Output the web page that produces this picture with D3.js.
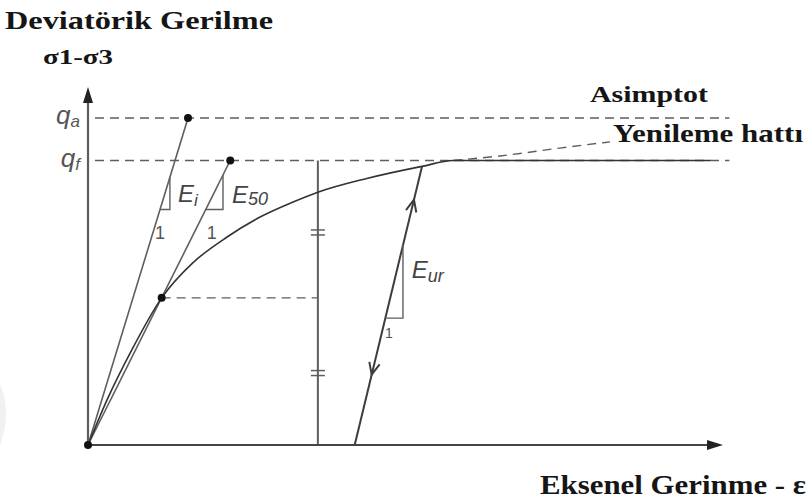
<!DOCTYPE html>
<html>
<head>
<meta charset="utf-8">
<script src="https://cdn.jsdelivr.net/npm/d3@7"></script>
<style>
  body { margin: 0; background: #fff; }
  svg { display: block; }
</style>
</head>
<body>
<svg id="chart" width="809" height="504"></svg>
<script>
// Hyperbolic stress–strain relation: deviator stress against axial strain
const axisStrainMax = 10;        // end of the strain axis
const axisStressMax = 109.5;     // end of the stress axis
const qa = 100;                  // asymptotic deviator stress
const qf = 87;                   // failure deviator stress
const q50 = 45;                  // stress level used for E50
const guideStart = 0.11;         // strain where horizontal guides begin
const guideEnd = 10.1;           // strain where horizontal guides end

// primary loading curve (strain, stress)
const primaryStrain = [0, 0.30, 0.69, 1.16, 1.65, 2.19, 2.71, 3.23, 3.62, 4.39, 5.26, 5.75, 9.8];
const primaryStress = [0, 13.8, 29.1, 45, 55.7, 63.6, 69.7, 74.3, 77.3, 81.5, 85.2, 87, 87];

// hyperbola continued towards the asymptote
const branchStrain = [5.75, 6.49, 7.43, 8.22];
const branchStress = [87, 88.4, 90.8, 92.7];

// stiffness lines: [start strain, start stress, end strain, end stress]
const eiLine  = [0, 0, 1.575, qa];
const e50Line = [0, 0, 2.24, qf];
const eurLine = [4.2, 0, 5.26, 85.2];

const referenceStrain = 3.62;    // vertical reference line
const halfMarks = [65, 22];      // equal-segment ticks on it
const eurArrowStress = [75, 21.5];
const eurArrowDir = [1, -1];     // loading / unloading direction

// slope triangle corners (strain, stress)
const triCornerStrain = [1.29, 2.126, 4.96];
const triCornerStress = [72, 72, 38.8];

const svg = d3.select("#chart");
const x = d3.scaleLinear().domain([0, axisStrainMax]).range([88, 723]);
const y = d3.scaleLinear().domain([0, 100]).range([445, 118]);

const grey = "#5e5e5e";
const dark = "#333";

// faint mark at the left edge
svg.append("path")
  .attr("d", "M0,384 Q12,412 0,446 Z")
  .attr("fill", "#f1f1f1");

const lineGen = d3.line().x(d => x(d[0])).y(d => y(d[1]));
const smoothGen = d3.line().curve(d3.curveMonotoneX).x(d => x(d[0])).y(d => y(d[1]));

// horizontal dashed guides
[qa, qf].forEach(q => {
  svg.append("path")
    .attr("d", lineGen([[guideStart, q], [guideEnd, q]]))
    .attr("stroke", grey).attr("stroke-width", 1.4)
    .attr("stroke-dasharray", "9,6").attr("fill", "none");
});
svg.append("path")
  .attr("d", lineGen([[1.16, q50], [referenceStrain, q50]]))
  .attr("stroke", grey).attr("stroke-width", 1.4)
  .attr("stroke-dasharray", "9,6").attr("fill", "none");

// dashed hyperbola branch
svg.append("path")
  .attr("d", smoothGen(branchStrain.map((s, i) => [s, branchStress[i]])))
  .attr("stroke", grey).attr("stroke-width", 1.4)
  .attr("stroke-dasharray", "9,6").attr("fill", "none");

// stiffness lines
[[eiLine, grey, 1.6], [e50Line, grey, 1.6], [eurLine, "#3d3d3d", 2]].forEach(([l, c, w]) => {
  svg.append("path")
    .attr("d", lineGen([[l[0], l[1]], [l[2], l[3]]]))
    .attr("stroke", c).attr("stroke-width", w).attr("fill", "none");
});

// vertical reference line with equal-segment ticks
svg.append("path")
  .attr("d", lineGen([[referenceStrain, 0], [referenceStrain, qf]]))
  .attr("stroke", grey).attr("stroke-width", 2).attr("fill", "none");
halfMarks.forEach(q => {
  [-2.5, 2.5].forEach(off => {
    svg.append("line")
      .attr("x1", x(referenceStrain) - 7).attr("x2", x(referenceStrain) + 7)
      .attr("y1", y(q) + off).attr("y2", y(q) + off)
      .attr("stroke", grey).attr("stroke-width", 1.5);
  });
});

// primary curve
svg.append("path")
  .attr("d", smoothGen(primaryStrain.map((s, i) => [s, primaryStress[i]])))
  .attr("stroke", dark).attr("stroke-width", 1.6).attr("fill", "none");

// slope triangles
const triLines = [eiLine, e50Line, eurLine];
triLines.forEach((l, i) => {
  const slope = (l[3] - l[1]) / (l[2] - l[0]);
  const cs = triCornerStrain[i], cq = triCornerStress[i];
  const leftStrain = l[0] + (cq - l[1]) / slope;
  const topStress = l[1] + (cs - l[0]) * slope;
  svg.append("path")
    .attr("d", lineGen([[leftStrain, cq], [cs, cq], [cs, topStress]]))
    .attr("stroke", grey).attr("stroke-width", 1.4).attr("fill", "none");
});

// arrowheads on the unloading/reloading line
const adx = x(eurLine[2]) - x(eurLine[0]);
const ady = y(eurLine[3]) - y(eurLine[1]);
const ang = Math.atan2(ady, adx);
eurArrowStress.forEach((q, i) => {
  const s = eurLine[0] + (q - eurLine[1]) * (eurLine[2] - eurLine[0]) / (eurLine[3] - eurLine[1]);
  const px = x(s), py = y(q);
  const a = ang + (eurArrowDir[i] > 0 ? 0 : Math.PI);
  const len = 13, spread = 0.42;
  const p1 = [px - len * Math.cos(a - spread), py - len * Math.sin(a - spread)];
  const p2 = [px - len * Math.cos(a + spread), py - len * Math.sin(a + spread)];
  svg.append("path")
    .attr("d", `M${p1}L${px},${py}L${p2}`)
    .attr("stroke", "#3d3d3d").attr("stroke-width", 2).attr("fill", "none");
});

// axes
svg.append("line").attr("x1", x(0)).attr("x2", x(0))
  .attr("y1", y(0)).attr("y2", y(axisStressMax) + 10)
  .attr("stroke", grey).attr("stroke-width", 2.2);
svg.append("path")
  .attr("d", `M${x(0)},${y(axisStressMax)}L${x(0) - 5},${y(axisStressMax) + 16}L${x(0) + 5},${y(axisStressMax) + 16}Z`)
  .attr("fill", "#222");
svg.append("line").attr("x1", x(0)).attr("x2", x(axisStrainMax) - 10)
  .attr("y1", y(0)).attr("y2", y(0))
  .attr("stroke", "#444").attr("stroke-width", 2.2);
svg.append("path")
  .attr("d", `M${x(axisStrainMax)},${y(0)}L${x(axisStrainMax) - 16},${y(0) - 5}L${x(axisStrainMax) - 16},${y(0) + 5}Z`)
  .attr("fill", "#222");

// points
[[0, 0], [eiLine[2], eiLine[3]], [e50Line[2], e50Line[3]], [1.16, q50]].forEach(p => {
  svg.append("circle").attr("cx", x(p[0])).attr("cy", y(p[1])).attr("r", 4).attr("fill", "#111");
});

// level labels qa, qf
const sans = "'Liberation Sans', Arial, sans-serif";
const serif = "'Liberation Serif', 'Times New Roman', serif";
[[qa, "a"], [qf, "f"]].forEach(([q, sub]) => {
  const t = svg.append("text")
    .attr("x", 80).attr("y", y(q) + 6)
    .attr("text-anchor", "end")
    .attr("font-family", sans).attr("font-style", "italic")
    .attr("font-size", 26).attr("fill", "#555");
  t.append("tspan").text("q");
  t.append("tspan").attr("font-size", 17).attr("dy", 3).text(sub);
});

// stiffness labels
function stiffLabel(s, q, sub, subSize, subDy) {
  const t = svg.append("text")
    .attr("x", x(s)).attr("y", y(q))
    .attr("font-family", sans).attr("font-style", "italic")
    .attr("font-size", 24).attr("fill", "#444");
  t.append("tspan").text("E");
  t.append("tspan").attr("font-size", subSize).attr("dy", subDy).text(sub);
}
stiffLabel(1.417, 74.3, "i", 17, 4);
stiffLabel(2.268, 74, "50", 18, 2);
stiffLabel(5.1, 51, "ur", 18, 4);

// unit labels under the triangles
[[1.134, 64.5, 18], [1.95, 64.5, 18], [4.74, 34, 14]].forEach(([s, q, fs]) => {
  svg.append("text")
    .attr("x", x(s)).attr("y", y(q)).attr("text-anchor", "middle")
    .attr("dominant-baseline", "middle")
    .attr("font-family", sans).attr("font-size", fs).attr("fill", "#555")
    .text("1");
});

// titles and annotations
function serifText(txt, tx, ty, fs, len) {
  svg.append("text")
    .attr("x", tx).attr("y", ty)
    .attr("font-family", serif).attr("font-weight", "bold")
    .attr("font-size", fs).attr("fill", "#151515")
    .attr("textLength", len).attr("lengthAdjust", "spacingAndGlyphs")
    .text(txt);
}
serifText("Deviatörik Gerilme", 5, 29, 25, 268);
serifText("σ1-σ3", 43, 64, 20, 70);
serifText("Asimptot", 590, 102, 23, 118);
serifText("Yenileme hattı", 613, 142, 26, 190);
serifText("Eksenel Gerinme - ε", 540, 494, 27, 266);
</script>
</body>
</html>
